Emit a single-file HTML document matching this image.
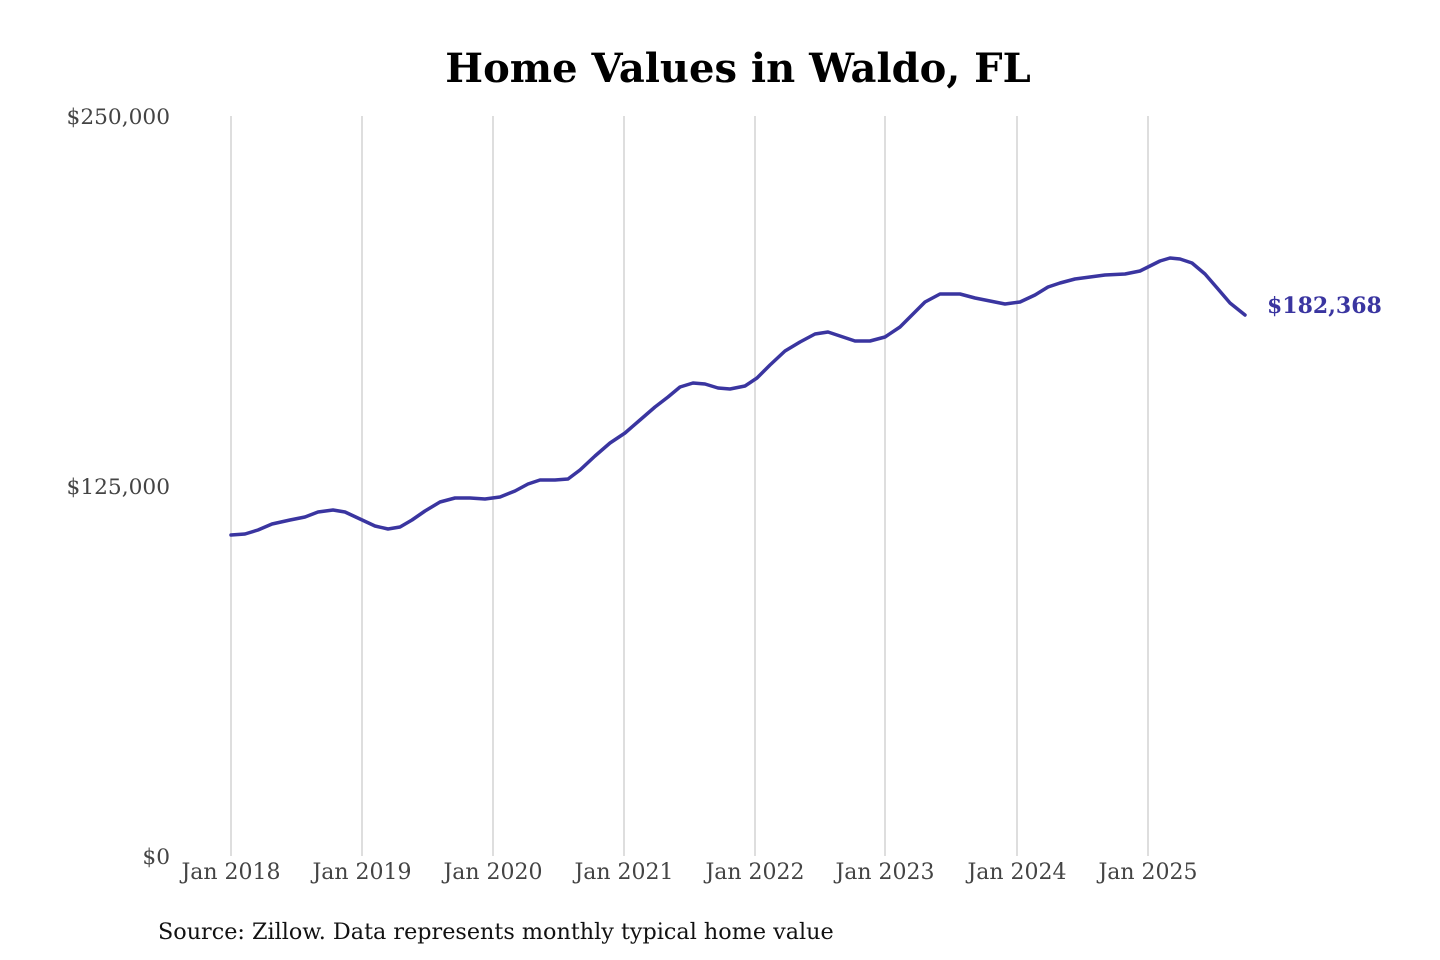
<!DOCTYPE html>
<html><head><meta charset="utf-8"><style>
html,body{margin:0;padding:0;background:#fff;}
svg{display:block;}
</style></head><body>
<svg width="1440" height="960" viewBox="0 0 1440 960" xmlns="http://www.w3.org/2000/svg">
<rect width="1440" height="960" fill="#fff"/>
<text x="738" y="82" text-anchor="middle" font-family="DejaVu Serif, Liberation Serif, serif" font-weight="bold" font-size="40" fill="#000">Home Values in Waldo, FL</text>
<g stroke="#c8c8c8" stroke-width="1.2">
<line x1="231" y1="116" x2="231" y2="856"/>
<line x1="362" y1="116" x2="362" y2="856"/>
<line x1="493" y1="116" x2="493" y2="856"/>
<line x1="624" y1="116" x2="624" y2="856"/>
<line x1="755" y1="116" x2="755" y2="856"/>
<line x1="885" y1="116" x2="885" y2="856"/>
<line x1="1017" y1="116" x2="1017" y2="856"/>
<line x1="1148" y1="116" x2="1148" y2="856"/>
</g>
<g font-family="DejaVu Serif, Liberation Serif, serif" fill="#444">
<g font-size="21.7">
<text x="170" y="124" text-anchor="end">$250,000</text>
<text x="170" y="494" text-anchor="end">$125,000</text>
<text x="170" y="864" text-anchor="end">$0</text>
</g>
<g text-anchor="middle" font-size="22">
<text x="231" y="879">Jan 2018</text>
<text x="362" y="879">Jan 2019</text>
<text x="493" y="879">Jan 2020</text>
<text x="624" y="879">Jan 2021</text>
<text x="755" y="879">Jan 2022</text>
<text x="885" y="879">Jan 2023</text>
<text x="1017" y="879">Jan 2024</text>
<text x="1148" y="879">Jan 2025</text>
</g>
</g>
<polyline fill="none" stroke="#3a35a0" stroke-width="3.5" stroke-linejoin="round" stroke-linecap="round" points="231,535 245,534 258,530 272,524 290,520 305,517 318,512 333,510 345,512 360,519 375,526 388,529 400,527 412,520 425,511 440,502 455,498 470,498 485,499 500,497 515,491 528,484 540,480 555,480 568,479 580,470 595,456 610,443 625,433 640,420 655,407 668,397 680,387 693,383 705,384 718,388 730,389 745,386 757,378 770,365 785,351 800,342 815,334 828,332 840,336 855,341 870,341 885,337 900,327 912,315 925,302 940,294 960,294 975,298 990,301 1005,304 1020,302 1035,295 1048,287 1060,283 1075,279 1090,277 1105,275 1125,274 1140,271 1150,266 1160,261 1170,258 1180,259 1192,263 1205,274 1218,289 1230,303 1245,315"/>
<text x="1267" y="313" font-family="DejaVu Serif, Liberation Serif, serif" font-weight="bold" font-size="22" fill="#3a35a0">$182,368</text>
<text x="158" y="939" font-family="DejaVu Serif, Liberation Serif, serif" font-size="22.3" fill="#111">Source: Zillow. Data represents monthly typical home value</text>
</svg>
</body></html>
